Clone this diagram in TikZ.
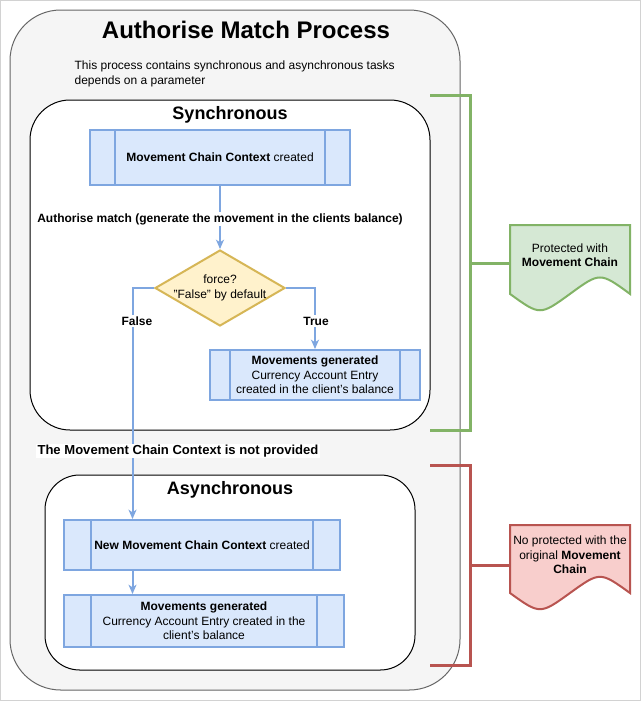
\documentclass[tikz,border=0pt]{standalone}
\usepackage{fontspec}
\setmainfont{Liberation Sans}
\usetikzlibrary{shapes.geometric,calc,arrows.meta}
\definecolor{procstroke}{HTML}{7EA6E0}
\definecolor{procfill}{HTML}{DAE8FC}
\definecolor{decfill}{HTML}{FFF2CC}
\definecolor{decstroke}{HTML}{D6B656}
\definecolor{grnstroke}{HTML}{82B366}
\definecolor{grnfill}{HTML}{D5E8D4}
\definecolor{redstroke}{HTML}{B85450}
\definecolor{redfill}{HTML}{F8CECC}
\definecolor{outerfill}{HTML}{F5F5F5}
\definecolor{outerstroke}{HTML}{666666}
\begin{document}
\begin{tikzpicture}[x=0.75pt,y=-0.75pt,
  txt/.style={font=\fontsize{9}{10.8}\selectfont, align=center, inner sep=1pt},
  procbox/.style={draw=procstroke, fill=procfill, line width=1.5pt, inner sep=0pt, align=center, font=\fontsize{9}{10.8}\selectfont},
  procline/.style={draw=procstroke, line width=1.5pt},
  flow/.style={draw=procstroke, line width=1.5pt, -{Stealth[length=7pt,width=6pt,inset=2pt]}},
  lbl/.style={font=\bfseries\fontsize{9}{10.8}\selectfont, fill=white, inner sep=1pt},
  secttitle/.style={font=\bfseries\fontsize{13.5}{16}\selectfont},
  bracketg/.style={draw=grnstroke, line width=2.25pt},
  bracketr/.style={draw=redstroke, line width=2.25pt}
]
\useasboundingbox (0,0) rectangle (641,701);
\draw[gray!35, line width=0.75pt] (0.5,0.5) rectangle (640.5,700.5);

% outer container
\draw[fill=outerfill, draw=outerstroke, line width=0.75pt, rounded corners=38pt] (10,10) rectangle (460,690);
\node[font=\bfseries\fontsize{18}{21}\selectfont] (title) at (246,30) {Authorise Match Process};
\node[txt, anchor=west, align=left] (desc) at (73,74) {This process contains synchronous and asynchronous tasks\\depends on a parameter};

% synchronous container
\draw[fill=white, draw=black, line width=0.75pt, rounded corners=30pt] (30,100) rectangle (430,430);
\node[secttitle] (synct) at (230,115) {Synchronous};

% asynchronous container
\draw[fill=white, draw=black, line width=0.75pt, rounded corners=26pt] (45,475) rectangle (415,670);
\node[secttitle] (asynct) at (230,490) {Asynchronous};

% process boxes
\node[procbox, minimum width=195pt, minimum height=41.25pt] (b1) at (220,157.5) {\textbf{Movement Chain Context} created};
\node[procbox, minimum width=157.5pt, minimum height=37.5pt] (b2) at (315,375) {\textbf{Movements generated}\\Currency Account Entry\\created in the client's balance};
\node[procbox, minimum width=207pt, minimum height=37.5pt] (ab1) at (202,545) {\textbf{New Movement Chain Context} created};
\node[procbox, minimum width=210pt, minimum height=39pt] (ab2) at (204,621) {\textbf{Movements generated}\\Currency Account Entry created in the\\client's balance};
\foreach \n in {b1,b2,ab1,ab2}{
  \draw[procline] ($(\n.north west)!0.1!(\n.north east)$) -- ($(\n.south west)!0.1!(\n.south east)$);
  \draw[procline] ($(\n.north west)!0.9!(\n.north east)$) -- ($(\n.south west)!0.9!(\n.south east)$);
}

% decision
\node[diamond, draw=decstroke, fill=decfill, line width=1.5pt, minimum width=97.5pt, minimum height=57pt, inner sep=0pt] (d) at (220,288) {};
\node[txt] (dtext) at (220,288) {force?\\"False" by default};

% connectors
\draw[flow] (b1.south) -- (d.north);
\node[lbl] (authlbl) at (220,219) {Authorise match (generate the movement in the clients balance)};
\coordinate (falsex) at ($(ab1.north west)!0.25!(ab1.north east)$);
\draw[flow] (d.west) -| (falsex);
\node[lbl] (falselbl) at (137,321) {False};
\node[lbl, font=\bfseries\fontsize{9.8}{11.5}\selectfont] (notprov) at (178,451) {The Movement Chain Context is not provided};
\draw[flow] (d.east) -| (b2.north);
\node[lbl] (truelbl) at (316,321) {True};
\draw[flow] (falsex |- ab1.south) -- (falsex |- ab2.north);

% green document
\draw[draw=grnstroke, fill=grnfill, line width=1.5pt] (510,225) -- (630,225) -- (630,293.9) .. controls (600,272) .. (570,293.9) .. controls (540,315.7) .. (510,293.9) -- cycle;
\node[txt] (gtext) at (570,255) {Protected with\\\textbf{Movement Chain}};
\coordinate (gdocl) at (510,263);
\draw[bracketg] (430,95) -- (470,95) -- (470,430) -- (430,430);
\draw[bracketg] (470,263) -- (gdocl);

% red document
\draw[draw=redstroke, fill=redfill, line width=1.5pt] (510,525) -- (630,525) -- (630,593) .. controls (600,571.4) .. (570,593) .. controls (540,614.6) .. (510,593) -- cycle;
\node[txt] (rtext) at (570,555) {No protected with the\\original \textbf{Movement}\\\textbf{Chain}};
\coordinate (rdocl) at (510,565);
\draw[bracketr] (430,465) -- (470,465) -- (470,665) -- (430,665);
\draw[bracketr] (470,565) -- (rdocl);
\end{tikzpicture}
\end{document}
